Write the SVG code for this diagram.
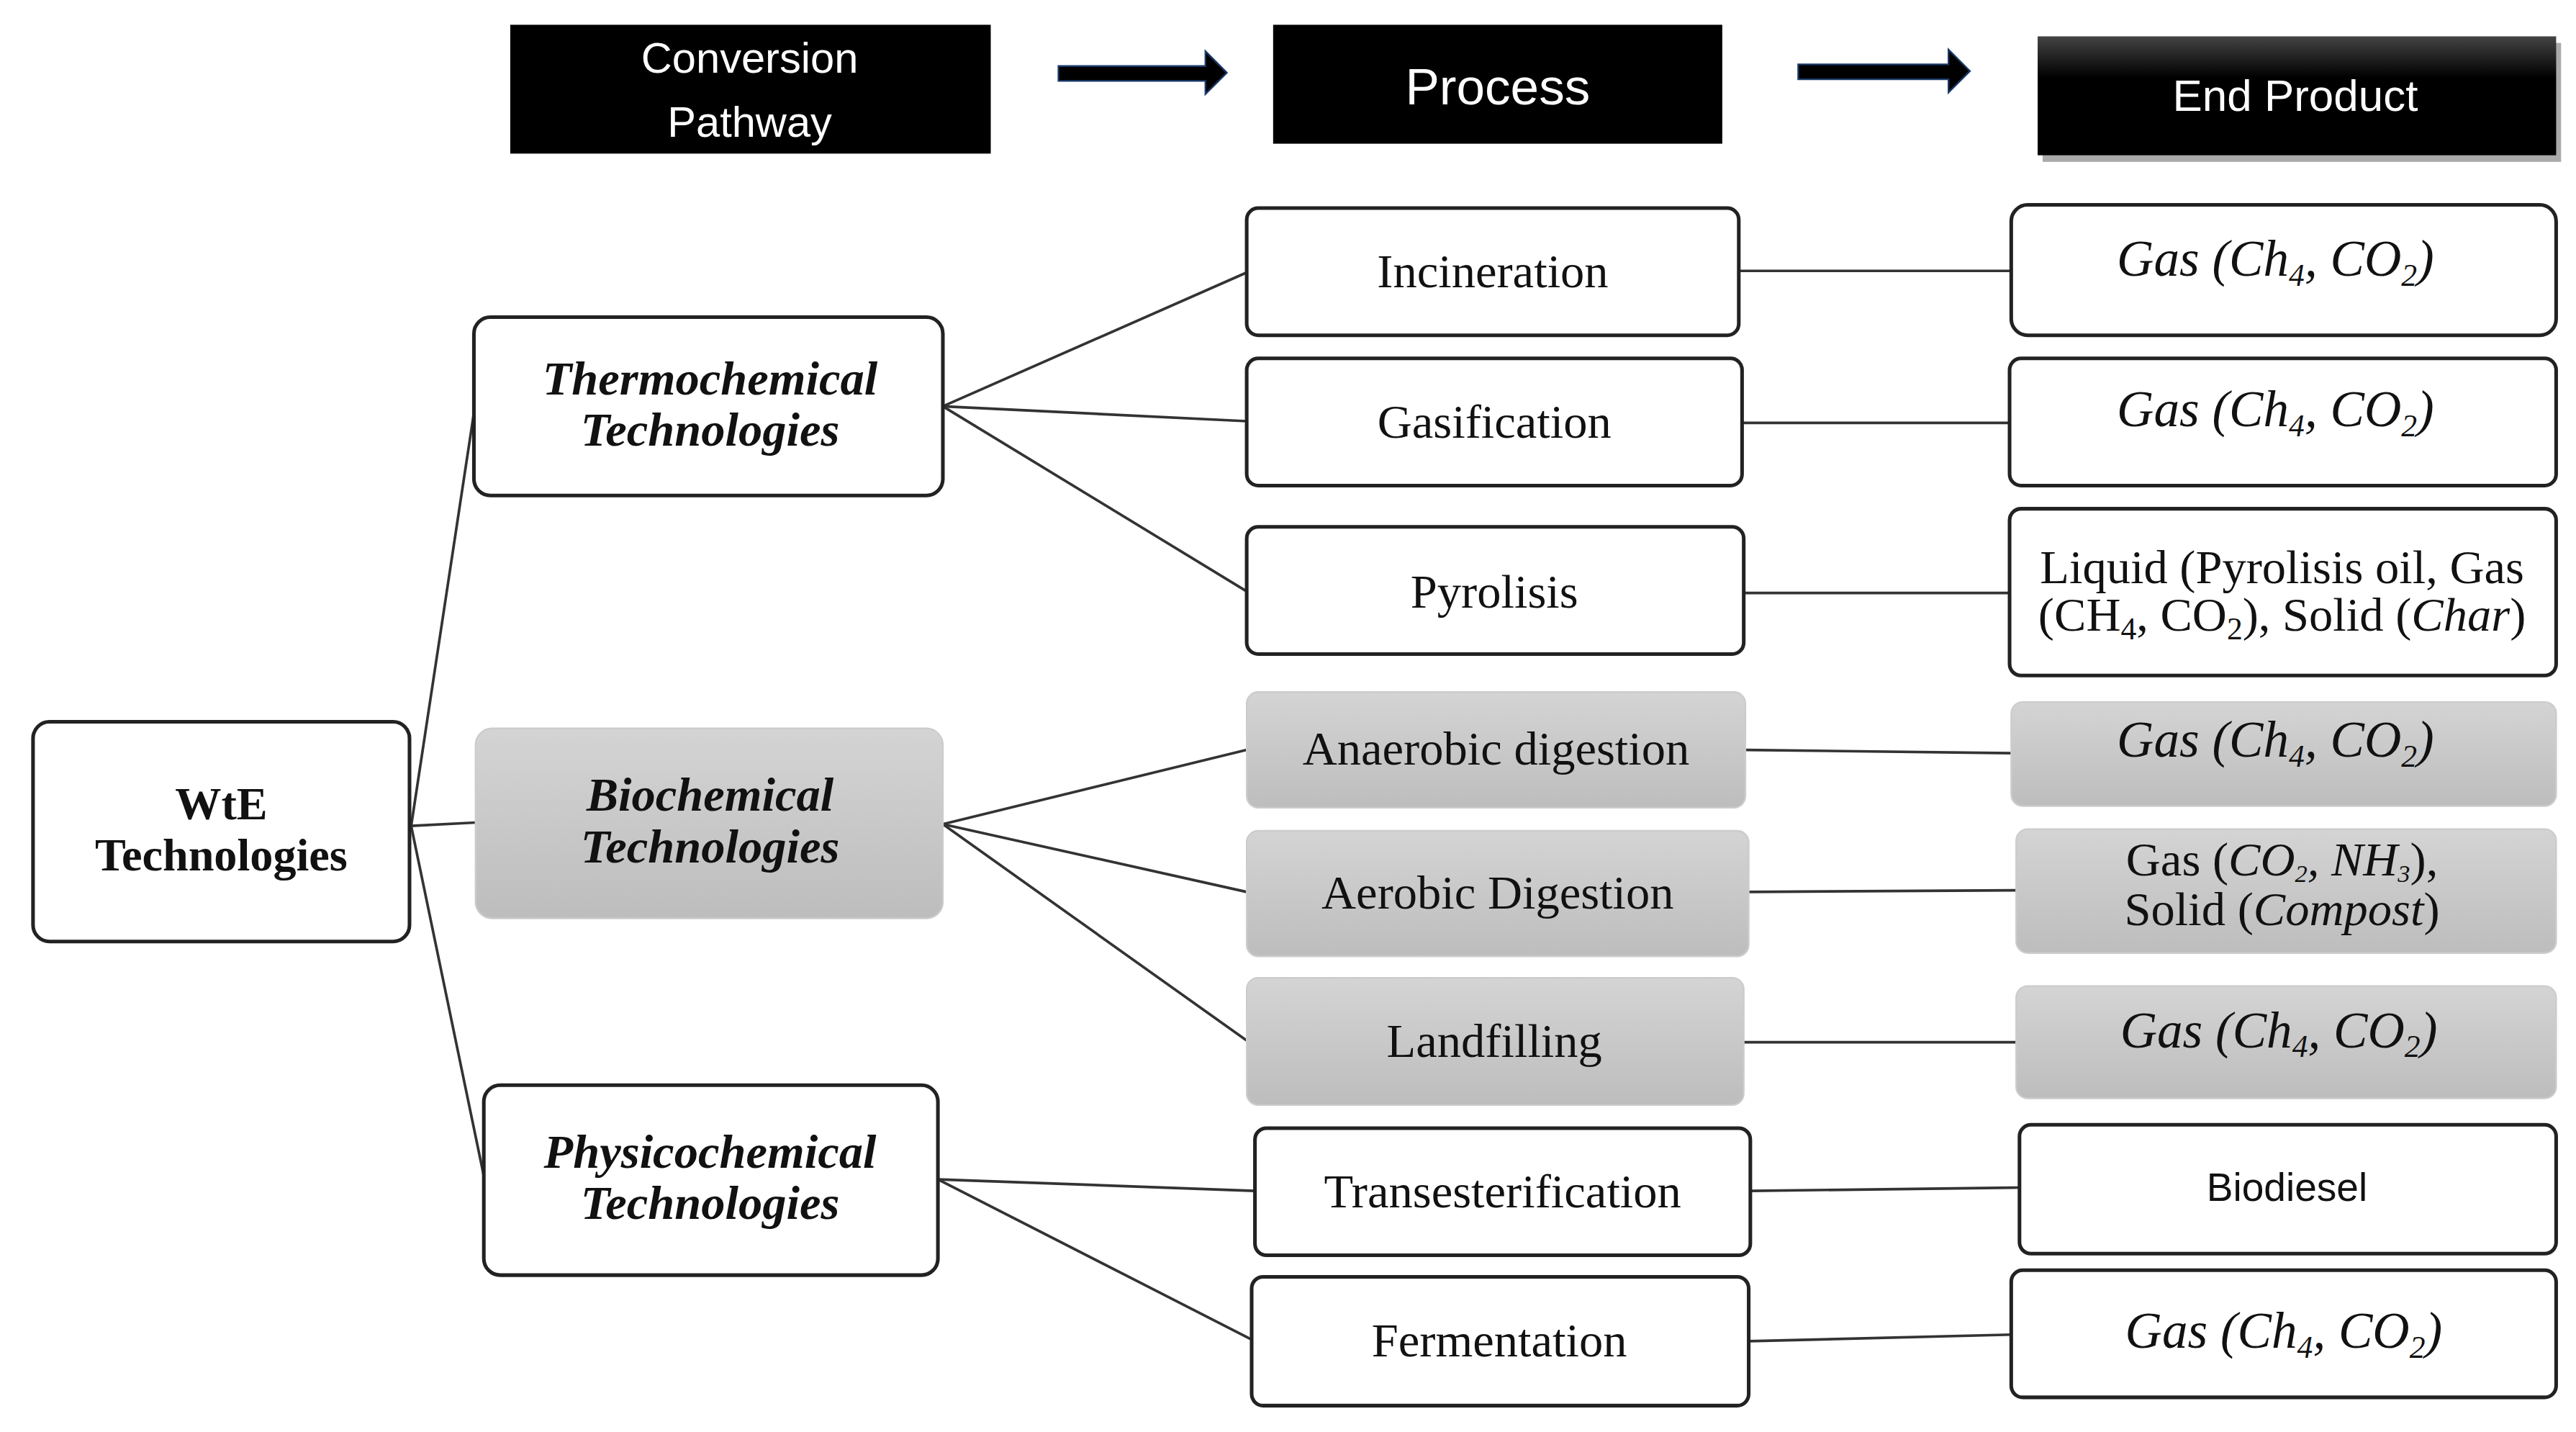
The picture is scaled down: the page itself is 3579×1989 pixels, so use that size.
<svg xmlns="http://www.w3.org/2000/svg" width="3579" height="1989" viewBox="0 0 3579 1989">
<style>
.b{fill:#fff;stroke:#222;stroke-width:2.2}
.g{fill:url(#gr);stroke:#ccc;stroke-width:1}
.h{fill:#000}
.ht{font-family:"Liberation Sans","Open Sans",sans-serif;fill:#fff;text-anchor:middle}
.t{font-family:"Liberation Serif",serif;font-size:29px;fill:#111;text-anchor:middle}
.bi{font-family:"Liberation Serif",serif;font-size:29px;font-weight:bold;font-style:italic;fill:#111;text-anchor:middle}
.bb{font-family:"Liberation Serif",serif;font-size:28px;font-weight:bold;fill:#111;text-anchor:middle}
.m{font-family:"Liberation Serif",serif;font-size:31px;font-style:italic;fill:#111;text-anchor:middle}
.s{font-size:19px}
.c line{stroke:#333;stroke-width:1.6}
</style>
<defs>
<linearGradient id="gr" x1="0" y1="0" x2="0" y2="1"><stop offset="0" stop-color="#d4d4d4"/><stop offset="1" stop-color="#bdbdbd"/></linearGradient>
<linearGradient id="hg" x1="0" y1="0" x2="0" y2="1"><stop offset="0" stop-color="#444"/><stop offset="0.35" stop-color="#000"/><stop offset="1" stop-color="#000"/></linearGradient>
</defs>
<rect width="3579" height="1989" fill="#fff"/>
<g transform="scale(2.2942)">
<g id="headers">
<rect class="h" x="309" y="15" width="291" height="78"/>
<text class="ht" font-size="26" x="454" y="44">Conversion</text>
<text class="ht" font-size="26" x="454" y="83">Pathway</text>
<rect class="h" x="771" y="15" width="272" height="72"/>
<text class="ht" font-size="31" x="907" y="63">Process</text>
<rect x="1237" y="26" width="314" height="72" fill="#555" opacity="0.5"/>
<rect fill="url(#hg)" x="1234" y="22" width="314" height="72"/>
<text class="ht" font-size="27" x="1390" y="67">End  Product</text>
<polygon points="641,40 730,40 730,31 743,44 730,57 730,49 641,49" fill="#000" stroke="#1a3a6a" stroke-width="1"/>
<polygon points="1089,39 1180,39 1180,30 1193,43 1180,56 1180,48 1089,48" fill="#000" stroke="#1a3a6a" stroke-width="1"/>
</g>
<g class="c" id="connectors">
<line x1="249" y1="500" x2="287" y2="250"/>
<line x1="249" y1="500" x2="288" y2="498"/>
<line x1="249" y1="500" x2="293" y2="712"/>
<line x1="571" y1="246" x2="755" y2="165"/>
<line x1="571" y1="246" x2="755" y2="255"/>
<line x1="571" y1="246" x2="755" y2="358"/>
<line x1="571" y1="499" x2="755" y2="454"/>
<line x1="571" y1="499" x2="755" y2="540"/>
<line x1="571" y1="499" x2="755" y2="630"/>
<line x1="568" y1="714" x2="760" y2="721"/>
<line x1="568" y1="714" x2="758" y2="811"/>
<line x1="1053" y1="164" x2="1218" y2="164"/>
<line x1="1055" y1="256" x2="1217" y2="256"/>
<line x1="1056" y1="359" x2="1217" y2="359"/>
<line x1="1057" y1="454" x2="1218" y2="456"/>
<line x1="1059" y1="540" x2="1221" y2="539"/>
<line x1="1056" y1="631" x2="1221" y2="631"/>
<line x1="1060" y1="721" x2="1223" y2="719"/>
<line x1="1059" y1="812" x2="1218" y2="808"/>
</g>
<g id="wte"><rect class="b" x="20" y="437" width="228" height="133" rx="10"/>
<text class="bb" x="134" y="496">WtE</text><text class="bb" x="134" y="527">Technologies</text></g>
<g id="thermo"><rect class="b" x="287" y="192" width="284" height="108" rx="10"/>
<text class="bi" x="430" y="239">Thermochemical</text><text class="bi" x="430" y="270">Technologies</text></g>
<g id="bio"><rect class="g" x="288" y="441" width="283" height="115" rx="10"/>
<text class="bi" x="430" y="491">Biochemical</text><text class="bi" x="430" y="522">Technologies</text></g>
<g id="physico"><rect class="b" x="293" y="657" width="275" height="115" rx="10"/>
<text class="bi" x="430" y="707">Physicochemical</text><text class="bi" x="430" y="738">Technologies</text></g>

<g id="incineration"><rect class="b" x="755" y="126" width="298" height="77" rx="7"/><text class="t" x="904" y="174">Incineration</text></g>
<g id="gasification"><rect class="b" x="755" y="217" width="300" height="77" rx="7"/><text class="t" x="905" y="265">Gasification</text></g>
<g id="pyrolisis"><rect class="b" x="755" y="319" width="301" height="77" rx="7"/><text class="t" x="905" y="368">Pyrolisis</text></g>
<g id="anaerobic"><rect class="g" x="755" y="419" width="302" height="70" rx="7"/><text class="t" x="906" y="463">Anaerobic digestion</text></g>
<g id="aerobic"><rect class="g" x="755" y="503" width="304" height="76" rx="7"/><text class="t" x="907" y="550">Aerobic Digestion</text></g>
<g id="landfilling"><rect class="g" x="755" y="592" width="301" height="77" rx="7"/><text class="t" x="905" y="640">Landfilling</text></g>
<g id="trans"><rect class="b" x="760" y="683" width="300" height="77" rx="7"/><text class="t" x="910" y="731">Transesterification</text></g>
<g id="ferment"><rect class="b" x="758" y="773" width="301" height="78" rx="7"/><text class="t" x="908" y="821">Fermentation</text></g>

<g id="e1"><rect class="b" x="1218" y="124" width="330" height="79" rx="10"/><text class="m" x="1378" y="167">Gas (Ch<tspan class="s" dy="6">4</tspan><tspan dy="-6">, CO</tspan><tspan class="s" dy="6">2</tspan><tspan dy="-6">)</tspan></text></g>
<g id="e2"><rect class="b" x="1217" y="217" width="331" height="77" rx="7"/><text class="m" x="1378" y="258">Gas (Ch<tspan class="s" dy="6">4</tspan><tspan dy="-6">, CO</tspan><tspan class="s" dy="6">2</tspan><tspan dy="-6">)</tspan></text></g>
<g id="e3"><rect class="b" x="1217" y="308" width="331" height="101" rx="7"/>
<text class="t" font-size="25" x="1382" y="353">Liquid (Pyrolisis oil, Gas</text>
<text class="t" font-size="25" x="1382" y="382">(CH<tspan class="s" dy="5">4</tspan><tspan dy="-5">, CO</tspan><tspan class="s" dy="5">2</tspan><tspan dy="-5">), Solid (</tspan><tspan font-style="italic">Char</tspan>)</text></g>
<g id="e4"><rect class="g" x="1218" y="425" width="330" height="63" rx="7"/><text class="m" x="1378" y="458">Gas (Ch<tspan class="s" dy="6">4</tspan><tspan dy="-6">, CO</tspan><tspan class="s" dy="6">2</tspan><tspan dy="-6">)</tspan></text></g>
<g id="e5"><rect class="g" x="1221" y="502" width="327" height="75" rx="7"/>
<text class="t" font-size="23" x="1382" y="530">Gas (<tspan font-style="italic">CO</tspan><tspan font-size="15" dy="4" font-style="italic">2</tspan><tspan dy="-4" font-style="italic">, NH</tspan><tspan font-size="15" dy="4" font-style="italic">3</tspan><tspan dy="-4">),</tspan></text>
<text class="t" font-size="23" x="1382" y="560">Solid (<tspan font-style="italic">Compost</tspan>)</text></g>
<g id="e6"><rect class="g" x="1221" y="597" width="327" height="68" rx="7"/><text class="m" x="1380" y="634">Gas (Ch<tspan class="s" dy="6">4</tspan><tspan dy="-6">, CO</tspan><tspan class="s" dy="6">2</tspan><tspan dy="-6">)</tspan></text></g>
<g id="e7"><rect class="b" x="1223" y="681" width="325" height="78" rx="7"/><text x="1385" y="727" font-family="Liberation Sans,sans-serif" font-size="24" text-anchor="middle" fill="#111">Biodiesel</text></g>
<g id="e8"><rect class="b" x="1218" y="769" width="330" height="77" rx="7"/><text class="m" x="1383" y="816">Gas (Ch<tspan class="s" dy="6">4</tspan><tspan dy="-6">, CO</tspan><tspan class="s" dy="6">2</tspan><tspan dy="-6">)</tspan></text></g>
</g>
</svg>
